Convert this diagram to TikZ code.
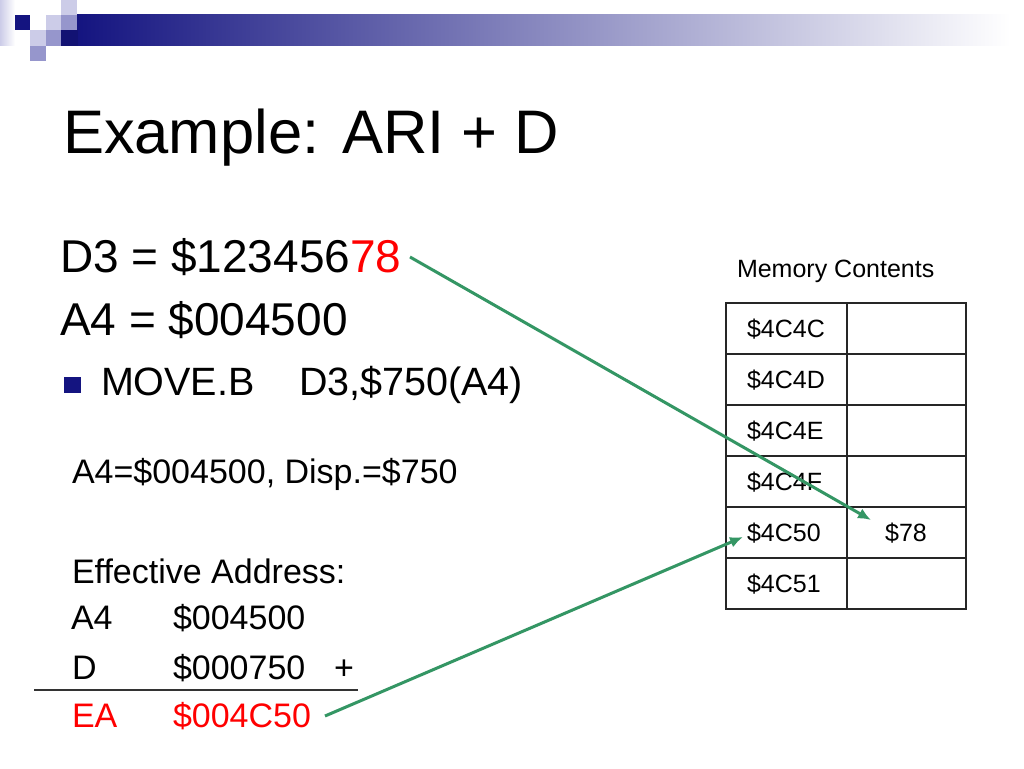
\documentclass[tikz,border=0pt]{standalone}
\usepackage{fontspec}
\setmainfont{Liberation Sans}
\usetikzlibrary{arrows.meta}
\definecolor{navy}{RGB}{20,20,128}
\definecolor{barmid}{RGB}{140,140,172}
\definecolor{lav}{RGB}{204,204,232}
\definecolor{medlav}{RGB}{150,150,204}
\definecolor{arrgreen}{RGB}{52,150,100}
\definecolor{txtred}{RGB}{255,0,0}
\tikzset{
  txt/.style={anchor=base west, inner sep=0pt, outer sep=0pt},
  titlefont/.style={font=\fontsize{61.5}{70}\selectfont},
  bigfont/.style={font=\fontsize{46}{52}\selectfont},
  bulletfont/.style={font=\fontsize{39.5}{46}\selectfont},
  midfont/.style={font=\fontsize{34}{40}\selectfont},
  smallfont/.style={font=\fontsize{25}{29}\selectfont},
  grid/.style={draw=black!85, line width=1.3pt},
  conn/.style={draw=arrgreen, line width=3pt, -{Latex[length=13pt,width=11pt]}},
}
\begin{document}
\begin{tikzpicture}[x=1pt,y=-1pt]
\useasboundingbox (0,0) rectangle (1024,768);
\fill[white] (0,0) rectangle (1024,768);
% decoration
\shade[left color=lav, right color=white] (0,0) rectangle (15,46);
\shade[left color=navy, middle color=barmid, right color=white] (77,15) rectangle (1010,46);
\fill[navy!90!black] (61,30) rectangle (77.5,46);
\fill[navy] (15,15) rectangle (30,30);
\fill[lav] (46,15) rectangle (61,30);
\fill[lav] (61,0) rectangle (77,15);
\fill[medlav] (61,15) rectangle (77,30);
\fill[lav] (30,30) rectangle (46,46);
\fill[medlav] (46,30) rectangle (61,46);
\fill[medlav] (30,46) rectangle (46,61);
% title
\node[txt,titlefont] (title) at (63,153) {Example: ARI + D};
% body
\node[txt,bigfont] (d3) at (60,272) {D3 = \$123456\textcolor{txtred}{78}};
\node[txt,bigfont] (a4) at (60,335) {A4 = \$004500};
\fill[navy] (64,377) rectangle (81,393);
\node[txt,bulletfont] (move) at (101,395) {MOVE.B};
\node[txt,bulletfont] (moveop) at (299,395) {D3,\$750(A4)};
\node[txt,midfont] (disp) at (72,483) {A4=\$004500, Disp.=\$750};
\node[txt,midfont] (eff) at (72,583) {Effective Address:};
\node[txt,midfont] (la4) at (71,629) {A4};
\node[txt,midfont] (va4) at (173,629) {\$004500};
\node[txt,midfont] (ld) at (72,679) {D};
\node[txt,midfont] (vd) at (173,679) {\$000750};
\node[txt,midfont] (plus) at (334,679) {+};
\draw[line width=1.2pt, black!80] (34,690) -- (358,690);
\node[txt,midfont,text=txtred] (lea) at (72,727) {EA};
\node[txt,midfont,text=txtred] (vea) at (173,727) {\$004C50};
% memory table
\node[txt,smallfont] (memtitle) at (737,277) {Memory Contents};
\draw[grid] (726,303) rectangle (966,609);
\draw[grid] (847,303) -- (847,609);
\foreach \y in {354,405,456,507,558} \draw[grid] (726,\y) -- (966,\y);
\node[txt,smallfont] (c0) at (747,337) {\$4C4C};
\node[txt,smallfont] (c1) at (747,388) {\$4C4D};
\node[txt,smallfont] (c2) at (747,439) {\$4C4E};
\node[txt,smallfont] (c3) at (747,490) {\$4C4F};
\node[txt,smallfont] (c4) at (747,541) {\$4C50};
\node[txt,smallfont] (c5) at (747,592) {\$4C51};
\node[anchor=base, inner sep=0pt, smallfont] (v4) at (906,541) {\$78};
% connectors
\coordinate (s1) at (410,257);
\coordinate (e1) at (871,520);
\coordinate (s2) at (325,716);
\coordinate (e2) at (743,537);
\draw[conn] (s1) -- (e1);
\draw[conn] (s2) -- (e2);
\end{tikzpicture}
\end{document}
